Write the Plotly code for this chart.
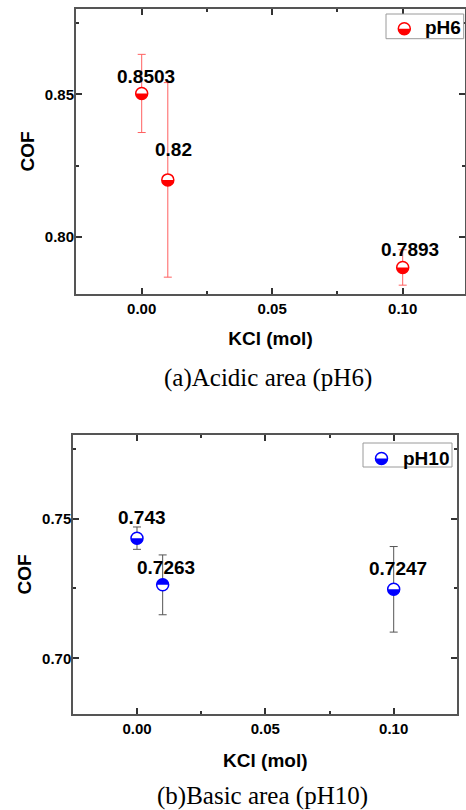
import plotly.graph_objects as go

# ---------------- data ----------------
kcl = [0.0, 0.01, 0.10]
cof_ph6 = [0.8503, 0.82, 0.7893]
err_ph6 = [0.0137, 0.0341, 0.0062]
cof_ph10 = [0.743, 0.7263, 0.7247]
err_ph10 = [0.0040, 0.0107, 0.0153]
label_ph6 = ["0.8503", "0.82", "0.7893"]
label_ph10 = ["0.743", "0.7263", "0.7247"]
x_tick_vals = [0.0, 0.05, 0.10]
x_tick_text = ["0.00", "0.05", "0.10"]
y_tick_vals_ph6 = [0.80, 0.85]
y_tick_text_ph6 = ["0.80", "0.85"]
y_tick_vals_ph10 = [0.70, 0.75]
y_tick_text_ph10 = ["0.70", "0.75"]
series_names = ["pH6", "pH10"]
captions = ["(a)Acidic area (pH6)", "(b)Basic area (pH10)"]

# ---------------- style ----------------
W, H = 466, 810
SANS = "Liberation Sans, Arial, sans-serif"
SERIF = "Liberation Serif, Times New Roman, serif"
RED = "#ff0000"
BLUE = "#0000ff"
EBAR_RED = "#ff6060"
EBAR_GRAY = "#555555"
MARKER_R = 6
half_ph6 = ["bottom", "bottom", "bottom"]
half_ph10 = ["bottom", "top", "bottom"]
shift_ph6 = [(4, 4), (6, 18), (7, 5)]
shift_ph10 = [(5, 8), (3, 5), (4, 8)]


def px_x(p):
    return p / W


def px_y(p):
    return 1 - p / H


def half_path(r, side):
    k = 0.5523 * r
    s = -1 if side == "bottom" else 1
    return (f"M {-r},0 C {-r},{s*k:.3f} {-k:.3f},{s*r} 0,{s*r} "
            f"C {k:.3f},{s*r} {r},{s*k:.3f} {r},0 Z")


fig = go.Figure()
shapes = []
annotations = []

panels = [
    dict(xa="x", ya="y", y=cof_ph6, err=err_ph6, lab=label_ph6, color=RED,
         ecol=EBAR_RED, half=half_ph6, shift=shift_ph6),
    dict(xa="x2", ya="y2", y=cof_ph10, err=err_ph10, lab=label_ph10, color=BLUE,
         ecol=EBAR_GRAY, half=half_ph10, shift=shift_ph10),
]

for i, p in enumerate(panels):
    fig.add_trace(go.Scatter(
        x=kcl, y=p["y"], mode="markers", name=series_names[i],
        xaxis=p["xa"], yaxis=p["ya"], showlegend=False,
        marker=dict(symbol="circle", size=2 * MARKER_R, color="white",
                    line=dict(color=p["color"], width=1.5)),
        error_y=dict(type="data", array=p["err"], color=p["ecol"],
                     thickness=1, width=4),
    ))
    for xv, yv, side in zip(kcl, p["y"], p["half"]):
        shapes.append(dict(type="path", xref=p["xa"], yref=p["ya"],
                           xsizemode="pixel", ysizemode="pixel",
                           xanchor=xv, yanchor=yv,
                           path=half_path(MARKER_R, side),
                           fillcolor=p["color"], line=dict(width=0),
                           layer="above"))
    for xv, yv, t, (dx, dy) in zip(kcl, p["y"], p["lab"], p["shift"]):
        annotations.append(dict(x=xv, y=yv, xref=p["xa"], yref=p["ya"],
                                text=t, showarrow=False, xanchor="center",
                                yanchor="bottom", xshift=dx, yshift=dy,
                                font=dict(family=SANS, size=19, color="black",
                                          weight="bold")))

# legends (drawn boxes)
legend_boxes = [
    dict(x0=386, x1=463.7, y0=14, y1=38.7, sx=404.3, sy=28.8, tx=423, ty=27.8,
         color=RED),
    dict(x0=363, x1=452, y0=443, y1=467, sx=381.5, sy=458.5, tx=401, ty=458.0,
         color=BLUE),
]
for i, lb in enumerate(legend_boxes):
    shapes.append(dict(type="rect", xref="paper", yref="paper",
                       x0=px_x(lb["x0"]), x1=px_x(lb["x1"]),
                       y0=px_y(lb["y1"]), y1=px_y(lb["y0"]),
                       line=dict(color="#9a9a9a", width=1), fillcolor="white",
                       layer="above"))
    shapes.append(dict(type="circle", xref="paper", yref="paper",
                       xsizemode="pixel", ysizemode="pixel",
                       xanchor=px_x(lb["sx"]), yanchor=px_y(lb["sy"]),
                       x0=-MARKER_R, x1=MARKER_R, y0=-MARKER_R, y1=MARKER_R,
                       line=dict(color=lb["color"], width=1.5),
                       fillcolor="white", layer="above"))
    shapes.append(dict(type="path", xref="paper", yref="paper",
                       xsizemode="pixel", ysizemode="pixel",
                       xanchor=px_x(lb["sx"]), yanchor=px_y(lb["sy"]),
                       path=half_path(MARKER_R, "bottom"),
                       fillcolor=lb["color"], line=dict(width=0),
                       layer="above"))
    annotations.append(dict(x=px_x(lb["tx"]), y=px_y(lb["ty"]), xref="paper",
                            yref="paper", text=series_names[i],
                            showarrow=False, xanchor="left", yanchor="middle",
                            font=dict(family=SANS, size=19, color="black",
                                      weight="bold")))

# captions
for cap, (cx, cy) in zip(captions, [(268, 378), (262, 796)]):
    annotations.append(dict(x=px_x(cx), y=px_y(cy), xref="paper", yref="paper",
                            text=cap, showarrow=False, xanchor="center",
                            yanchor="middle",
                            font=dict(family=SERIF, size=25, color="black")))

tickfont = dict(family=SANS, size=15, color="black", weight="bold")
titlefont = dict(family=SANS, size=19, color="black", weight="bold")
common = dict(showline=True, linecolor="#555555", linewidth=2,
              mirror="allticks", ticks="inside", ticklen=6, tickwidth=1.5,
              tickcolor="#333333", showgrid=False, zeroline=False,
              tickfont=tickfont)
minor = dict(dtick=0.025, tick0=0, ticks="inside", ticklen=3, tickwidth=1.5,
             tickcolor="#333333")

fig.update_layout(
    width=W, height=H, margin=dict(l=0, r=0, t=0, b=0),
    paper_bgcolor="white", plot_bgcolor="white", showlegend=False,
    xaxis=dict(common, domain=[px_x(76), px_x(465)], range=[-0.02517, 0.12387],
               tickvals=x_tick_vals, ticktext=x_tick_text, anchor="y",
               minor=minor,
               title=dict(text="KCl (mol)", font=titlefont, standoff=16)),
    yaxis=dict(common, domain=[px_y(294), px_y(8.7)], range=[0.78, 0.88],
               tickvals=y_tick_vals_ph6, ticktext=y_tick_text_ph6, anchor="x",
               minor=minor, ticklabelstandoff=-3,
               title=dict(text="COF", font=titlefont, standoff=5)),
    xaxis2=dict(common, domain=[px_x(73.3), px_x(457.3)],
                range=[-0.02481, 0.12478],
                tickvals=x_tick_vals, ticktext=x_tick_text, anchor="y2",
                minor=minor,
                title=dict(text="KCl (mol)", font=titlefont, standoff=17)),
    yaxis2=dict(common, domain=[px_y(714.3), px_y(434.7)], range=[0.68, 0.78],
                tickvals=y_tick_vals_ph10, ticktext=y_tick_text_ph10,
                anchor="x2", minor=minor, ticklabelstandoff=-3,
                title=dict(text="COF", font=titlefont, standoff=5)),
    shapes=shapes, annotations=annotations,
)

fig.write_html("out.html",
               config={"displayModeBar": False},
               post_script="document.body.style.margin='0';"
                           "document.body.style.padding='0';"
                           "document.documentElement.style.overflow='hidden';")
